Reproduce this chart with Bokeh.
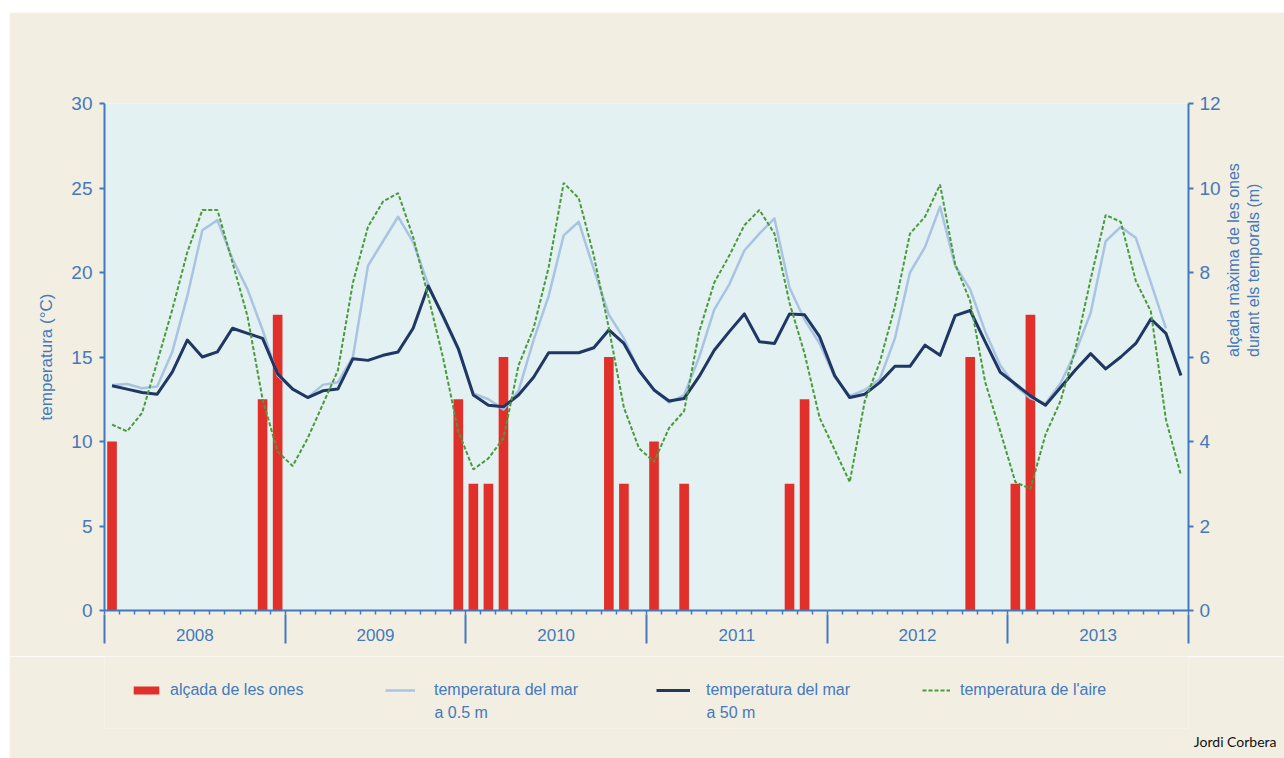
import math
from bokeh.plotting import figure
from bokeh.models import (Range1d, LinearAxis, FixedTicker, Legend, LegendItem,
                          Label, Title, Spacer)
from bokeh.layouts import column, row
from bokeh.embed import file_html
from bokeh.resources import INLINE

# ---------------- data ----------------
years = ["2008", "2009", "2010", "2011", "2012", "2013"]
n_months = 72

# sea temperature at 50 m (monthly, Jan 2008 .. Dec 2013)
sea_50m = [
    13.3, 13.1, 12.9, 12.8, 14.1, 16.0, 15.0, 15.3, 16.7, 16.4, 16.1, 14.0,
    13.1, 12.6, 13.0, 13.1, 14.9, 14.8, 15.1, 15.3, 16.7, 19.2, 17.4, 15.5,
    12.75, 12.15, 12.05, 12.75, 13.8, 15.25, 15.25, 15.25, 15.55, 16.6, 15.8, 14.2,
    13.05, 12.4, 12.55, 13.85, 15.4, 16.5, 17.55, 15.9, 15.8, 17.55, 17.5, 16.2,
    13.9, 12.6, 12.8, 13.5, 14.45, 14.45, 15.7, 15.1, 17.45, 17.75, 15.9, 14.1,
    13.4, 12.7, 12.15, 13.2, 14.25, 15.2, 14.3, 15.0, 15.8, 17.25, 16.4, 13.9,
]

# sea temperature at 0.5 m (Jan 2008 .. Nov 2013)
sea_05m = [
    13.35, 13.4, 13.15, 13.25, 15.3, 18.6, 22.5, 23.1, 20.8, 19.0, 16.6, 13.9,
    13.1, 12.6, 13.35, 13.5, 15.0, 20.4, 21.85, 23.3, 21.8, 19.3, 17.3, 15.4,
    12.85, 12.5, 11.9, 13.0, 16.0, 18.6, 22.2, 23.0, 20.2, 17.5, 16.1, 14.2,
    13.05, 12.3, 12.75, 15.0, 17.8, 19.3, 21.3, 22.3, 23.2, 19.1, 17.2, 15.8,
    13.8, 12.7, 13.05, 13.7, 16.1, 20.0, 21.5, 23.9, 20.4, 19.0, 16.5, 14.5,
    13.3, 12.55, 12.25, 13.45, 15.3, 17.6, 21.85, 22.7, 22.05, 19.4, 16.7,
]

# air temperature (Jan 2008 .. Dec 2013)
air = [
    11.0, 10.6, 11.7, 14.7, 17.8, 21.2, 23.7, 23.7, 20.6, 17.4, 12.5, 9.4,
    8.55, 10.2, 12.2, 14.2, 19.4, 22.7, 24.2, 24.7, 22.1, 18.6, 14.9, 10.6,
    8.35, 9.0, 10.2, 14.5, 16.7, 20.3, 25.3, 24.4, 21.0, 16.7, 12.0, 9.6,
    8.8, 10.8, 11.8, 16.5, 19.4, 21.0, 22.8, 23.7, 22.3, 18.2, 15.2, 11.4,
    9.5, 7.6, 12.4, 14.7, 18.0, 22.3, 23.3, 25.2, 20.5, 18.3, 13.5, 10.6,
    7.6, 7.2, 10.4, 12.4, 15.5, 19.6, 23.4, 23.0, 19.5, 17.7, 11.3, 8.0,
]

# maximum wave height during storms (m): month index (0 = Jan 2008) and value
wave_month = [0, 10, 11, 23, 24, 25, 26, 33, 34, 36, 38, 45, 46, 57, 60, 61]
wave_height = [4, 5, 7, 5, 3, 3, 6, 6, 3, 4, 3, 3, 5, 6, 3, 7]

temp_ticks = [0, 5, 10, 15, 20, 25, 30]
wave_ticks = [0, 2, 4, 6, 8, 10, 12]

legend_labels = ["alçada de les ones", "temperatura del mar",
                 "temperatura del mar", "temperatura de l'aire"]
legend_second = ["", "a 0.5 m", "a 50 m", ""]

# ---------------- style ----------------
BLUE = "#4479BD"
CREAM = "#F2EFE2"
PANEL = "#E3F1F2"
RED = "#E1302A"
LIGHT = "#A9C3E3"
DARK = "#1F3763"
GREEN = "#4B9A3C"
FONT = "Liberation Sans"

bar_style = dict(fill_color=RED, line_color=None)
light_style = dict(line_color=LIGHT, line_width=2.5, line_join="round")
dark_style = dict(line_color=DARK, line_width=3, line_join="round")
air_style = dict(line_color=GREEN, line_width=2, line_dash="4 2")

x_bars = [m + 0.5 for m in wave_month]
x_light = [i + 0.5 for i in range(len(sea_05m))]
x_all = [i + 0.5 for i in range(n_months)]

# ================= main chart =================
p = figure(width=1275, height=644, output_backend="svg", toolbar_location=None,
           x_range=Range1d(0, n_months), y_range=Range1d(0, 30),
           x_axis_location=None, y_axis_location=None,
           min_border_left=95, min_border_right=94, min_border_top=91,
           min_border_bottom=46,
           background_fill_color=PANEL, border_fill_color=CREAM,
           outline_line_color=None)
p.grid.visible = False
p.extra_y_ranges = {"ones": Range1d(0, 12)}

months_edges = list(range(n_months + 1))
year_bounds = [12 * k for k in range(len(years) + 1)]
year_centers = [12 * k + 6 for k in range(len(years))]

# x axis line with short month ticks
xmonths = LinearAxis(ticker=FixedTicker(ticks=[], minor_ticks=months_edges),
                     axis_line_color=BLUE, axis_line_width=2,
                     major_tick_in=0, major_tick_out=4, major_label_standoff=0,
                     minor_tick_line_color=BLUE, minor_tick_line_width=1.5,
                     minor_tick_in=0, minor_tick_out=4,
                     major_label_text_color=None)
p.add_layout(xmonths, "below")

# year labels with long year dividers
xyears = LinearAxis(ticker=FixedTicker(ticks=year_centers, minor_ticks=year_bounds),
                    major_label_overrides={c: y for c, y in zip(year_centers, years)},
                    axis_line_color=None, major_tick_line_color=None,
                    major_tick_in=0, major_tick_out=0,
                    minor_tick_line_color=BLUE, minor_tick_line_width=2,
                    minor_tick_in=0, minor_tick_out=29,
                    major_label_standoff=-15,
                    major_label_text_color=BLUE, major_label_text_font=FONT,
                    major_label_text_font_size="17px")
p.add_layout(xyears, "below")

yleft = LinearAxis(ticker=FixedTicker(ticks=temp_ticks), axis_label="temperatura (°C)",
                   axis_line_color=BLUE, axis_line_width=2,
                   major_tick_line_color=BLUE, major_tick_line_width=2,
                   major_tick_in=0, major_tick_out=5, minor_tick_out=0,
                   major_label_standoff=7,
                   major_label_text_color=BLUE, major_label_text_font=FONT,
                   major_label_text_font_size="19px",
                   axis_label_text_color=BLUE, axis_label_text_font=FONT,
                   axis_label_text_font_size="17px", axis_label_text_font_style="normal",
                   axis_label_standoff=12)
p.add_layout(yleft, "left")

yright = LinearAxis(y_range_name="ones", ticker=FixedTicker(ticks=wave_ticks),
                    axis_label="alçada màxima de les ones\ndurant els temporals (m)",
                    axis_label_orientation=math.pi / 2,
                    axis_line_color=BLUE, axis_line_width=2,
                    major_tick_line_color=BLUE, major_tick_line_width=2,
                    major_tick_in=0, major_tick_out=5, minor_tick_out=0,
                    major_label_standoff=6,
                    major_label_text_color=BLUE, major_label_text_font=FONT,
                    major_label_text_font_size="19px",
                    axis_label_text_color=BLUE, axis_label_text_font=FONT,
                    axis_label_text_font_size="16px", axis_label_text_font_style="normal",
                    axis_label_text_baseline="top", axis_label_text_line_height=1.2,
                    axis_label_standoff=20)
p.add_layout(yright, "right")

p.vbar(x=x_bars, top=wave_height, width=0.64, y_range_name="ones", **bar_style)
p.line(x_light, sea_05m, **light_style)
p.line(x_all, sea_50m, **dark_style)
p.line(x_all, air, **air_style)

# ================= legend strip =================
# The series are repeated here as hidden renderers so that the legend keys
# carry exactly the chart's styles.
lg = figure(width=1275, height=102, output_backend="svg", toolbar_location=None,
            x_range=Range1d(0, n_months), y_range=Range1d(0, 30),
            x_axis_location=None, y_axis_location=None,
            min_border_left=95, min_border_right=94,
            min_border_top=0, min_border_bottom=30,
            background_fill_color=CREAM, border_fill_color=CREAM,
            outline_line_color=None)
lg.grid.visible = False
key_bar = lg.vbar(x=x_bars, top=wave_height, width=0.64, visible=False, **bar_style)
key_light = lg.line(x_light, sea_05m, visible=False, **light_style)
key_dark = lg.line(x_all, sea_50m, visible=False, **dark_style)
key_air = lg.line(x_all, air, visible=False, **air_style)

legend_x = [26, 281, 552, 818]
legend_glyph_w = [32, 30, 34, 28]
legend_standoff = [8, 19, 16, 10]
for lab, r, x, gw, so in zip(legend_labels, [key_bar, key_light, key_dark, key_air],
                             legend_x, legend_glyph_w, legend_standoff):
    lg.add_layout(Legend(items=[LegendItem(label=lab, renderers=[r])],
                         location=(x, 28), orientation="horizontal",
                         click_policy="none",
                         background_fill_alpha=0, border_line_alpha=0,
                         padding=0, margin=0, spacing=0,
                         glyph_width=gw, glyph_height=10, label_standoff=so,
                         label_height=20,
                         label_text_color=BLUE, label_text_font=FONT,
                         label_text_font_size="16px"), "center")
for txt, x, gw, so in zip(legend_second, legend_x, legend_glyph_w, legend_standoff):
    if txt:
        lg.add_layout(Label(x=x + gw + so, y=16, x_units="screen", y_units="screen",
                            text=txt, text_baseline="middle", text_color=BLUE,
                            text_font=FONT, text_font_size="16px"))

lg.add_layout(Title(text="Jordi Corbera", align="right", offset=-88, standoff=4,
                    text_color="#111111", text_font="Lato", text_font_size="14px",
                    text_font_style="normal"), "below")

layout = column(Spacer(height=12), row(Spacer(width=9), column(p, lg)))
open("out.html", "w").write(file_html(layout, INLINE))
